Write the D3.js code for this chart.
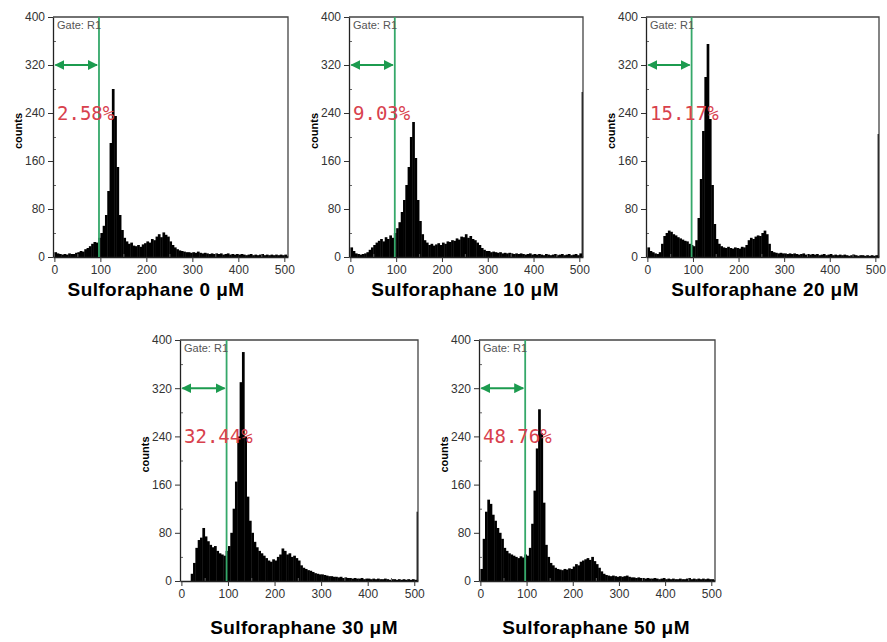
<!DOCTYPE html>
<html>
<head>
<meta charset="utf-8">
<script src="https://cdn.jsdelivr.net/npm/d3@7"></script>
<style>
  body { margin: 0; background: #fff; }
  svg { display: block; }
</style>
</head>
<body>
<div id="chart"></div>
<script>
// channel bins (width 5) : 0,5,...,505
var channels = d3.range(0, 510, 5);

var titles = ["Sulforaphane 0 μM", "Sulforaphane 10 μM", "Sulforaphane 20 μM", "Sulforaphane 30 μM", "Sulforaphane 50 μM"];
var percents = ["2.58%", "9.03%", "15.17%", "32.44%", "48.76%"];
var gateValue = 97;
var arrowValue = 320;
var yTicks = [0, 80, 160, 240, 320, 400];
var xTicks = [0, 100, 200, 300, 400, 500];

var counts0 = [8,6,5,4,5,4,6,5,5,7, 8,10,9,13,15,18,22,25,24,32, 40,52,70,110,190,280,235,150,70,45,
  32,26,22,24,19,18,20,17,21,23, 26,24,30,28,34,38,33,41,37,34, 26,20,16,13,11,10,9,8,8,7,
  8,7,9,7,6,7,6,5,6,5, 6,5,6,4,5,6,4,5,4,5, 4,5,4,3,4,5,3,4,3,4, 5,3,4,3,4,3,4,3,4,3, 4,2];
var counts10 = [16,10,6,5,4,5,6,8,12,16, 20,24,27,30,26,33,30,36,32,40, 48,58,75,95,120,150,200,225,165,95,
  60,38,28,24,20,22,19,21,23,20, 24,22,26,25,28,27,31,29,34,33, 38,32,35,30,28,24,20,15,12,10,
  10,8,9,8,7,8,6,7,6,7, 6,5,6,5,6,5,4,5,6,4, 5,4,5,4,3,5,4,3,4,5, 3,4,5,3,4,5,3,4,5,3, 6,275];
var counts20 = [16,10,8,6,5,8,22,35,40,44, 42,38,36,33,31,29,27,26,22,20, 18,28,65,130,210,300,355,230,120,55,
  30,22,18,16,15,17,15,14,16,15, 14,17,16,20,28,32,30,34,36,35, 40,44,38,22,10,8,7,6,7,6,
  6,5,6,5,6,5,4,5,6,4, 5,4,5,4,5,3,4,5,3,4, 5,3,4,3,4,3,4,3,2,3, 4,3,2,3,3,2,3,2,3,2, 3,205];
var counts30 = [0,0,0,0,12,30,55,68,72,88, 74,66,60,56,58,50,46,44,42,50, 58,80,120,165,240,330,380,240,140,100,
  80,65,56,50,46,42,38,34,32,36, 34,40,44,54,50,44,46,40,42,38, 34,26,22,20,18,17,15,13,12,11,
  11,10,9,8,8,7,7,6,7,5, 6,5,5,4,5,4,4,5,3,4, 4,3,4,3,4,3,3,4,3,2, 3,3,2,3,2,3,2,3,2,3, 2,115];
var counts50 = [20,70,115,135,128,110,100,88,80,70, 55,50,46,44,42,40,38,41,39,44, 42,55,95,150,220,285,245,130,60,40,
  30,26,22,20,19,18,20,19,21,20, 24,28,26,32,34,36,38,35,40,33, 28,22,16,12,10,9,8,9,8,7,
  8,7,8,9,7,6,6,5,6,5, 5,4,5,4,4,5,4,3,4,5, 3,4,3,4,3,3,4,3,3,4, 5,3,4,3,4,3,4,3,4,3, 3,2];

var series = [counts0, counts10, counts20, counts30, counts50];

// panel boxes in page pixels
var layout = [
  { left: 53,  right: 288, top: 17,  bottom: 257, titleX: 156, titleY: 296 },
  { left: 349, right: 583, top: 17,  bottom: 257, titleX: 465, titleY: 296 },
  { left: 646, right: 879, top: 17,  bottom: 257, titleX: 765, titleY: 296 },
  { left: 180, right: 418, top: 340, bottom: 581, titleX: 304, titleY: 634 },
  { left: 479, right: 715, top: 340, bottom: 581, titleX: 596, titleY: 634 }
];

var svg = d3.select("#chart").append("svg")
  .attr("width", 887)
  .attr("height", 642);

var defs = svg.append("defs");
defs.append("marker")
  .attr("id", "arrowHead")
  .attr("viewBox", "0 0 10 10")
  .attr("refX", 9).attr("refY", 5)
  .attr("markerWidth", 5).attr("markerHeight", 5)
  .attr("markerUnits", "strokeWidth")
  .attr("orient", "auto-start-reverse")
  .append("path")
  .attr("d", "M0,0 L10,5 L0,10 Z")
  .attr("fill", "#1c9b4f");

function drawHistogram(i) {
  var box = layout[i];
  var data = series[i];

  var x = d3.scaleLinear().domain([-3, 508]).range([box.left, box.right]);
  var y = d3.scaleLinear().domain([0, 400]).range([box.bottom, box.top]);

  var g = svg.append("g");

  g.append("clipPath").attr("id", "clip" + i)
    .append("rect")
    .attr("x", box.left).attr("y", box.top)
    .attr("width", box.right - box.left).attr("height", box.bottom - box.top);

  // histogram bars
  g.append("g")
    .attr("clip-path", "url(#clip" + i + ")")
    .selectAll("rect")
    .data(channels)
    .enter()
    .append("rect")
    .attr("x", function (c) { return x(c); })
    .attr("width", function (c) { return x(c + 5) - x(c) + 0.4; })
    .attr("y", function (c, k) { return y(data[k]); })
    .attr("height", function (c, k) { return y(0) - y(data[k]); })
    .attr("fill", "#000");

  // frame (top and right)
  g.append("path")
    .attr("d", "M" + box.left + "," + box.top + "H" + box.right + "V" + box.bottom)
    .attr("fill", "none")
    .attr("stroke", "#444")
    .attr("stroke-width", 1.3);

  // minor ticks, inward
  var yMinor = g.append("g")
    .attr("transform", "translate(" + box.left + ",0)")
    .call(d3.axisRight(y).tickValues([40, 120, 200, 280, 360]).tickSize(3).tickFormat(""));
  yMinor.select(".domain").remove();
  var xMinor = g.append("g")
    .attr("transform", "translate(0," + box.bottom + ")")
    .call(d3.axisTop(x).tickValues([50, 150, 250, 350, 450]).tickSize(3).tickFormat(""));
  xMinor.select(".domain").remove();

  var yAxis = g.append("g")
    .attr("transform", "translate(" + box.left + ",0)")
    .call(d3.axisLeft(y).tickValues(yTicks).tickSize(5).tickPadding(3).tickSizeOuter(0));
  var xAxis = g.append("g")
    .attr("transform", "translate(0," + box.bottom + ")")
    .call(d3.axisBottom(x).tickValues(xTicks).tickSize(5).tickPadding(3).tickSizeOuter(0));

  [yAxis, xAxis].forEach(function (a) {
    a.selectAll("text")
      .style("font-family", "'Liberation Sans', Arial, sans-serif")
      .style("font-size", "12px")
      .attr("fill", "#333");
    a.select(".domain").attr("stroke", "#222").attr("stroke-width", 1.3);
    a.selectAll(".tick line").attr("stroke", "#333");
  });
  yMinor.selectAll(".tick line").attr("stroke", "#666");
  xMinor.selectAll(".tick line").attr("stroke", "#666");

  // y label
  g.append("text")
    .attr("transform", "translate(" + (box.left - 31) + "," + y(210) + ") rotate(-90)")
    .style("text-anchor", "middle")
    .style("font-family", "'Liberation Sans', Arial, sans-serif")
    .style("font-size", "11px")
    .style("font-weight", "bold")
    .text("counts");

  // gate
  g.append("line")
    .attr("x1", x(gateValue)).attr("x2", x(gateValue))
    .attr("y1", box.top).attr("y2", box.bottom)
    .attr("stroke", "#35a86a")
    .attr("stroke-width", 1.8);

  g.append("line")
    .attr("x1", x(0) + 1).attr("x2", x(gateValue) - 2)
    .attr("y1", y(arrowValue)).attr("y2", y(arrowValue))
    .attr("stroke", "#1c9b4f")
    .attr("stroke-width", 2)
    .attr("marker-start", "url(#arrowHead)")
    .attr("marker-end", "url(#arrowHead)");

  g.append("text")
    .attr("x", box.left + 4)
    .attr("y", box.top + 12)
    .style("font-family", "'Liberation Sans', Arial, sans-serif")
    .style("font-size", "11px")
    .attr("fill", "#555")
    .text("Gate: R1");

  g.append("text")
    .attr("x", box.left + 4)
    .attr("y", y(240) + 7)
    .style("font-family", "'DejaVu Sans Mono', monospace")
    .style("font-size", "19px")
    .attr("fill", "#d8414d")
    .text(percents[i]);

  // panel title
  svg.append("text")
    .attr("x", box.titleX)
    .attr("y", box.titleY)
    .style("text-anchor", "middle")
    .style("font-family", "'Liberation Sans', Arial, sans-serif")
    .style("font-size", "19px")
    .style("font-weight", "bold")
    .style("letter-spacing", "0.4px")
    .text(titles[i]);
}

for (var i = 0; i < series.length; i++) drawHistogram(i);
</script>
</body>
</html>
